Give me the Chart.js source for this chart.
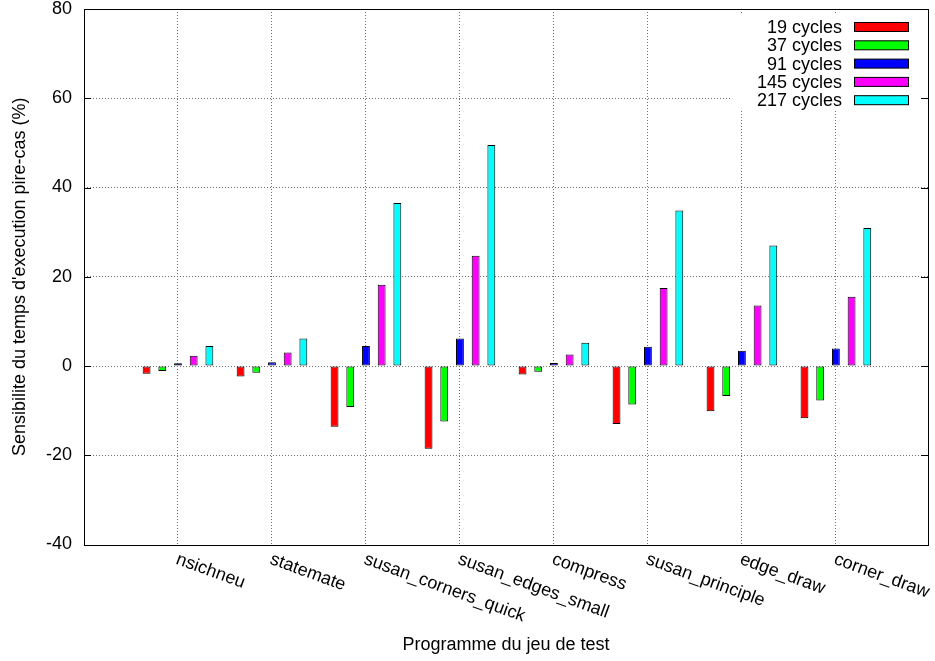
<!DOCTYPE html>
<html>
<head>
<meta charset="utf-8">
<script src="https://cdn.jsdelivr.net/npm/chart.js@4/dist/chart.umd.min.js"></script>
<style>
  html, body { margin: 0; padding: 0; background: #fff; }
  #wrap { width: 935px; height: 661px; }
</style>
</head>
<body>
<div id="wrap"><canvas id="wcetChart" width="935" height="661"></canvas></div>
<script>
const categories = ['nsichneu', 'statemate', 'susan_corners_quick', 'susan_edges_small',
                    'compress', 'susan_principle', 'edge_draw', 'corner_draw'];
const seriesNames = ['19 cycles', '37 cycles', '91 cycles', '145 cycles', '217 cycles'];
const cycles19  = [-1.75, -2.35, -13.6, -18.55, -1.9, -13.0, -10.15, -11.7];
const cycles37  = [-1.1, -1.5, -9.2, -12.45, -1.3, -8.65, -6.7, -7.75];
const cycles91  = [0.6, 0.85, 4.5, 6.15, 0.65, 4.3, 3.4, 3.9];
const cycles145 = [2.3, 3.0, 18.2, 24.7, 2.6, 17.5, 13.55, 15.5];
const cycles217 = [4.5, 6.15, 36.5, 49.5, 5.2, 34.85, 27.0, 30.9];
const yTicks = [-40, -20, 0, 20, 40, 60, 80];
const seriesColors = ['#ff0000', '#00ff00', '#0000ff', '#ff00ff', '#00ffff'];

const FONT = "'Liberation Sans', Arial, Helvetica, sans-serif";
Chart.defaults.font.family = FONT;
Chart.defaults.font.size = 18;
Chart.defaults.color = '#000';

const allSeries = [cycles19, cycles37, cycles91, cycles145, cycles217];
const datasets = allSeries.map((vals, k) => ({
    label: seriesNames[k],
    data: vals.map((v, i) => ({ x: i, y: v })),
    backgroundColor: seriesColors[k],
    borderColor: '#000',
    borderWidth: 1,
    borderSkipped: false,
    categoryPercentage: 0.835,
    barPercentage: 0.5,
}));

const gridGray = '#707070';

// gnuplot-ish frame, inward y tics, legend and rotated category labels
const gnuplotDecor = {
    id: 'gnuplotDecor',
    afterDatasetsDraw(chart) {
        const ctx = chart.ctx;
        // legend with opaque background
        ctx.save();
        ctx.fillStyle = '#fff';
        ctx.fillRect(731, 14, 188, 97);
        ctx.font = '18px ' + FONT;
        ctx.textAlign = 'right';
        ctx.textBaseline = 'middle';
        chart.data.datasets.forEach((ds, k) => {
            const cy = 27 + k * 18.3;
            ctx.fillStyle = '#000';
            ctx.fillText(ds.label, 842, cy + 1);
            ctx.fillStyle = ds.backgroundColor;
            ctx.fillRect(854.5, cy - 4.5, 54, 9);
            ctx.strokeStyle = '#000';
            ctx.lineWidth = 1;
            ctx.strokeRect(854.5, cy - 4.5, 54, 9);
        });
        ctx.restore();
    },
    afterDraw(chart) {
        const ctx = chart.ctx;
        const area = chart.chartArea;
        const xs = chart.scales.x;
        const ys = chart.scales.y;
        ctx.save();
        ctx.setLineDash([]);
        ctx.strokeStyle = '#000';
        ctx.lineWidth = 1;
        // y tics, left and mirrored right
        ys.ticks.forEach(t => {
            const y = Math.round(ys.getPixelForValue(t.value)) + 0.5;
            ctx.beginPath();
            ctx.moveTo(area.left, y); ctx.lineTo(area.left + 7, y);
            ctx.moveTo(area.right, y); ctx.lineTo(area.right - 7, y);
            ctx.stroke();
        });
        // frame
        ctx.strokeRect(Math.round(area.left) + 0.5, Math.round(area.top) + 0.5,
                       Math.round(area.right - area.left), Math.round(area.bottom - area.top));
        // rotated category labels
        ctx.font = '18px ' + FONT;
        ctx.fillStyle = '#000';
        ctx.textAlign = 'left';
        ctx.textBaseline = 'alphabetic';
        categories.forEach((name, i) => {
            const px = xs.getPixelForValue(i);
            ctx.save();
            ctx.translate(px - 3, area.bottom + 19);
            ctx.rotate(Math.PI / 9);
            ctx.fillText(name, 0, 0);
            ctx.restore();
        });
        ctx.restore();
    }
};

const ctx = document.getElementById('wcetChart').getContext('2d');
new Chart(ctx, {
    type: 'bar',
    data: { datasets: datasets },
    options: {
        responsive: false,
        animation: false,
        layout: { padding: { top: 9, right: 7, left: 0, bottom: 0 } },
        plugins: {
            legend: { display: false },
            tooltip: { enabled: false }
        },
        scales: {
            x: {
                type: 'linear',
                min: -1,
                max: 7.98,
                offset: false,
                afterBuildTicks: s => { s.ticks = s.ticks.filter(t => Number.isInteger(t.value)); },
                afterFit: s => { s.height = 116.5; s.paddingLeft = 0; s.paddingRight = 0; },
                ticks: { display: false, stepSize: 1 },
                grid: {
                    offset: false,
                    drawTicks: false,
                    color: c => (c.tick && c.tick.value >= 0) ? gridGray : 'rgba(0,0,0,0)',
                    lineWidth: 1
                },
                border: { display: false, dash: [1, 2] },
                title: {
                    display: true,
                    text: 'Programme du jeu de test',
                    font: { size: 18 },
                    padding: { top: 0, bottom: 5 }
                }
            },
            y: {
                min: -40,
                max: 80,
                afterBuildTicks: s => { s.ticks = yTicks.map(v => ({ value: v })); },
                afterFit: s => { s.width = 84; s.paddingTop = 0; s.paddingBottom = 0; },
                ticks: { stepSize: 20, padding: 12, font: { size: 18 } },
                grid: {
                    drawTicks: false,
                    color: c => (c.tick && c.tick.value > -40 && c.tick.value < 80) ? gridGray : 'rgba(0,0,0,0)',
                    lineWidth: 1
                },
                border: { display: false, dash: [1, 2] },
                title: {
                    display: true,
                    text: "Sensibilite du temps d'execution pire-cas (%)",
                    font: { size: 18 },
                    padding: { top: 9, bottom: 0 }
                }
            }
        }
    },
    plugins: [gnuplotDecor]
});
</script>
</body>
</html>
